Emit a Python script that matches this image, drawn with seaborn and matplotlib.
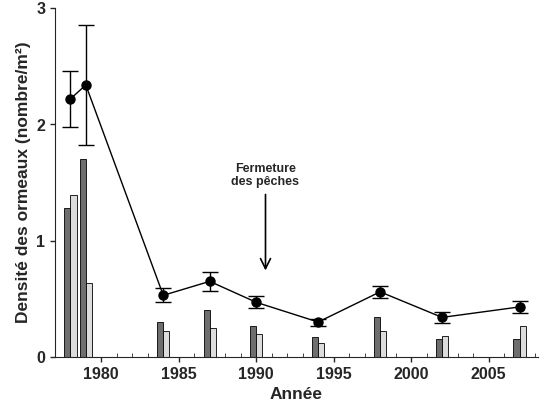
import numpy as np
import matplotlib
matplotlib.use("Agg")
import matplotlib.pyplot as plt
import seaborn as sns
from matplotlib.ticker import MultipleLocator

# data
years = [1978, 1979, 1984, 1987, 1990, 1994, 1998, 2002, 2007]
density = [2.22, 2.34, 0.53, 0.65, 0.47, 0.30, 0.56, 0.34, 0.43]
err = [0.24, 0.52, 0.06, 0.08, 0.05, 0.03, 0.05, 0.05, 0.05]
bars_dark = [1.28, 1.70, 0.30, 0.40, 0.27, 0.17, 0.34, 0.15, 0.15]
bars_light = [1.39, 0.64, 0.22, 0.25, 0.20, 0.12, 0.22, 0.18, 0.27]

sns.set_style("ticks")
plt.rcParams['font.family'] = ['Liberation Sans', 'DejaVu Sans']

fig = plt.figure(figsize=(5.43, 4.15), dpi=100)
ax = fig.add_axes([0.101, 0.14, 0.89, 0.84])

yrs = np.array(years)
ax.bar(yrs - 0.2, bars_dark, width=0.4, color="#6e6e6e", edgecolor="black", linewidth=0.6)
ax.bar(yrs + 0.2, bars_light, width=0.4, color="#dcdcdc", edgecolor="black", linewidth=0.6)

ax.errorbar(years, density, yerr=err, fmt="o-", color="black", ms=6.5,
            lw=1, capsize=6, elinewidth=1, capthick=1)

ax.annotate("Fermeture\ndes pêches", xy=(1990.6, 0.72), xytext=(1990.6, 1.45),
            ha="center", va="bottom", fontsize=9, fontweight="bold",
            arrowprops=dict(arrowstyle="->", color="black", lw=1.2, mutation_scale=18))

ax.set_xlim(1977, 2008.2)
ax.set_ylim(0, 3)
ax.xaxis.set_major_locator(MultipleLocator(5))
ax.xaxis.set_minor_locator(MultipleLocator(1))
ax.yaxis.set_major_locator(MultipleLocator(1))
ax.tick_params(axis="both", labelsize=11.5, width=1)
ax.tick_params(axis="x", which="minor", direction="in", length=3)
for lab in ax.get_xticklabels() + ax.get_yticklabels():
    lab.set_fontweight("bold")
ax.set_xlabel("Année", fontsize=12.5, fontweight="bold")
ax.set_ylabel("Densité des ormeaux (nombre/m²)", fontsize=12.5, fontweight="bold")
sns.despine(ax=ax)

fig.savefig("out.png", dpi=100)
